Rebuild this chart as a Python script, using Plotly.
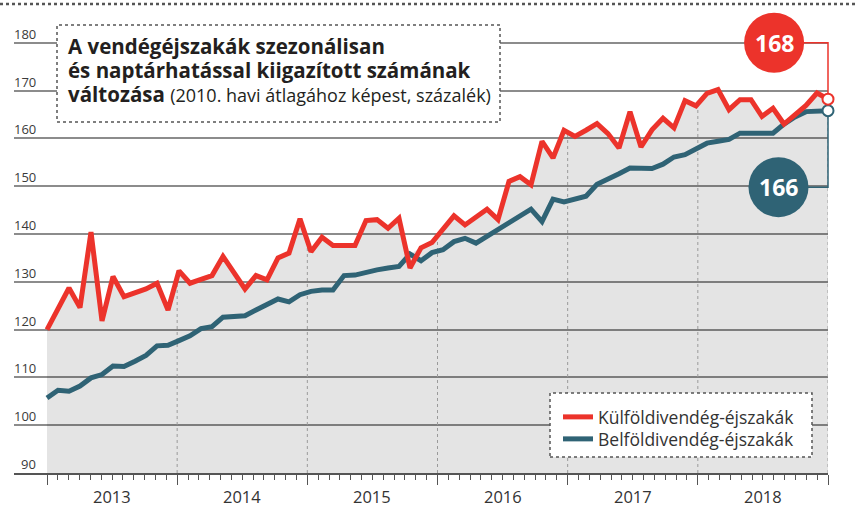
import numpy as np
import plotly.graph_objects as go

# ---------------- data (monthly, Jan 2013 .. Dec 2018) ----------------
years = ["2013", "2014", "2015", "2016", "2017", "2018"]
foreign = [120.0, 124.5, 128.7, 124.6, 140.4, 121.8, 131.1, 126.9, 127.6, 128.5, 129.7, 124.1,
           132.3, 129.7, 130.5, 131.3, 135.3, 131.8, 128.5, 131.3, 130.4, 135.0, 136.0, 143.2,
           136.3, 139.3, 137.6, 137.6, 137.6, 142.8, 143.0, 141.2, 143.3, 132.9, 137.1, 138.2,
           140.9, 143.8, 141.9, 143.5, 145.2, 143.0, 151.0, 152.0, 150.3, 159.4, 155.9, 161.7,
           160.4, 161.7, 163.1, 161.0, 158.0, 165.6, 158.2, 161.8, 164.2, 162.2, 167.9, 166.8,
           169.4, 170.2, 166.0, 168.1, 168.1, 164.6, 166.3, 163.0, 164.9, 166.9, 169.5, 168.2]
domestic = [105.7, 107.3, 107.1, 108.2, 109.9, 110.6, 112.4, 112.3, 113.4, 114.6, 116.6, 116.7,
            117.7, 118.7, 120.2, 120.6, 122.6, 122.8, 122.9, 124.1, 125.3, 126.4, 125.8, 127.3,
            128.0, 128.3, 128.3, 131.3, 131.4, 132.0, 132.5, 132.9, 133.2, 135.8, 134.4, 136.1,
            136.7, 138.4, 139.1, 138.1, 139.5, 140.9, 142.4, 143.8, 145.2, 142.6, 147.3, 146.7,
            147.2, 147.9, 150.4, 151.4, 152.6, 153.8, 153.7, 153.7, 154.6, 156.1, 156.6, 157.9,
            159.0, 159.4, 159.8, 161.1, 161.1, 161.0, 161.1, 163.0, 164.5, 165.6, 165.8, 165.8]
y_ticks = [90, 100, 110, 120, 130, 140, 150, 160, 170, 180]
names = ["Külföldivendég-éjszakák", "Belföldivendég-éjszakák"]
title_lines = ["A vendégéjszakák szezonálisan",
               "és naptárhatással kiigazított számának",
               "változása"]
subtitle = "(2010. havi átlagához képest, százalék)"

RED = "#ec332b"
TEAL = "#2f6375"
FONT = "Open Sans"

months = np.arange(len(foreign))
n = len(foreign)
X0, X1 = -3, n - 1          # x range
Y0, Y1 = 90, 181            # y range
PT, PB = 38, 473            # plot top / bottom pixel
PL, PR = 14, 828

def px(v):   # data x -> paper
    return (v - X0) / (X1 - X0)

def py(v):   # data y -> paper
    return (v - Y0) / (Y1 - Y0)

def ppx(p):  # pixel x -> paper
    return (p - PL) / (PR - PL)

def ppy(p):  # pixel y -> paper
    return (PB - p) / (PB - PT)

envelope = np.maximum(np.array(foreign), np.array(domestic))
bounds = [k * (n - 1) / 6 for k in range(7)]

fig = go.Figure()

# grey area under the lines
fig.add_trace(go.Scatter(x=months, y=envelope, mode="none", fill="tozeroy",
                         fillcolor="rgba(0,0,0,0.105)", showlegend=False, hoverinfo="skip"))

# dotted year separators inside the grey area
vx, vy = [], []
for b in bounds[1:]:
    top = float(np.interp(b, months, envelope))
    vx += [b, b, None]
    vy += [Y0, top, None]
fig.add_trace(go.Scatter(x=vx, y=vy, mode="lines", line=dict(color="#9a9a9a", width=1, dash="dot"),
                         showlegend=False, hoverinfo="skip"))

fig.add_trace(go.Scatter(x=months, y=domestic, mode="lines", name=names[1], legend="legend2",
                         line=dict(color=TEAL, width=5)))
fig.add_trace(go.Scatter(x=months, y=foreign, mode="lines", name=names[0], legend="legend",
                         line=dict(color=RED, width=5)))

# end markers
fig.add_trace(go.Scatter(x=[months[-1]], y=[domestic[-1]], mode="markers", showlegend=False,
                         cliponaxis=False,
                         marker=dict(size=11, color="white", line=dict(color=TEAL, width=2))))
fig.add_trace(go.Scatter(x=[months[-1]], y=[foreign[-1]], mode="markers", showlegend=False,
                         cliponaxis=False,
                         marker=dict(size=11, color="white", line=dict(color=RED, width=2))))

shapes = []
annotations = []

# top dotted rule
shapes.append(dict(type="line", xref="paper", yref="paper", x0=ppx(0), x1=ppx(856), y0=ppy(4), y1=ppy(4),
                   line=dict(color="#555", width=2.5, dash="dot"), layer="above"))

# title box
shapes.append(dict(type="rect", xref="paper", yref="paper", x0=ppx(57), x1=ppx(500), y0=ppy(122), y1=ppy(25),
                   fillcolor="white", line=dict(color="#555", width=1.5, dash="dot"), layer="above"))
for i, (line, yc) in enumerate(zip(title_lines, [46.5, 70, 93.5])):
    txt = f"<b>{line}</b>"
    if i == 2:
        txt += f" <span style='font-size:18px'>{subtitle}</span>"
    annotations.append(dict(xref="paper", yref="paper", x=ppx(66), y=ppy(yc), xanchor="left",
                            yanchor="middle", align="left", showarrow=False, text=txt,
                            font=dict(family=FONT, size=20.5, color="#231f20")))

# legend box
shapes.append(dict(type="rect", xref="paper", yref="paper", x0=ppx(550), x1=ppx(812), y0=ppy(457), y1=ppy(393),
                   fillcolor="white", line=dict(color="#555", width=1.5, dash="dot"), layer="above"))

# value callouts
for val, cx, cyv, col, mark_v, sign in [
        (foreign[-1], 66.1, 180.0, RED, foreign[-1], 1),
        (domestic[-1], 66.5, 149.8, TEAL, domestic[-1], -1)]:
    shapes.append(dict(type="path", xref="paper", yref="paper",
                       path=f"M {px(cx)},{py(cyv)} L {px(n-1)},{py(cyv)} L {px(n-1)},{py(mark_v) + sign*0.012}",
                       line=dict(color=col, width=1.5), layer="above"))
    shapes.append(dict(type="circle", xref="paper", yref="paper", xsizemode="pixel", ysizemode="pixel",
                       xanchor=px(cx), yanchor=py(cyv), x0=-30, x1=30, y0=-30, y1=30,
                       fillcolor=col, line=dict(width=0), layer="above"))
    annotations.append(dict(xref="paper", yref="paper", x=px(cx), y=py(cyv), xanchor="center",
                            yanchor="middle", showarrow=False, text=f"<b>{round(val)}</b>",
                            font=dict(family=FONT, size=23, color="white")))

# y tick labels above gridlines
for t in y_ticks:
    annotations.append(dict(xref="paper", yref="y", x=ppx(38), y=t, xanchor="right", yanchor="bottom",
                            showarrow=False, text=str(t), yshift=-2,
                            font=dict(family=FONT, size=13, color="#3a3a3a")))

# year labels
for k, yr in enumerate(years):
    annotations.append(dict(xref="x", yref="paper", x=(bounds[k] + bounds[k + 1]) / 2, y=ppy(496),
                            xanchor="center", yanchor="middle", showarrow=False, text=yr,
                            font=dict(family=FONT, size=16.5, color="#333")))

leg_common = dict(xanchor="left", yanchor="top", bgcolor="rgba(0,0,0,0)",
                  font=dict(family=FONT, size=17.5, color="#333"), itemwidth=30)

fig.update_layout(
    width=856, height=507,
    margin=dict(l=PL, r=856 - PR, t=PT, b=507 - PB),
    paper_bgcolor="white", plot_bgcolor="white",
    shapes=shapes, annotations=annotations,
    showlegend=True,
    legend=dict(x=ppx(558), y=ppy(399), **leg_common),
    legend2=dict(x=ppx(558), y=ppy(421), **leg_common),
    xaxis=dict(range=[X0, X1], showgrid=False, zeroline=False, showline=True, linecolor="#555",
               linewidth=2, ticks="outside", tickmode="array", tickvals=bounds, ticklen=10,
               tickcolor="#555", tickwidth=1, showticklabels=False,
               minor=dict(tickmode="array", tickvals=[j * (n - 1) / 72 for j in range(73)],
                          ticks="outside", ticklen=5, tickcolor="#555", tickwidth=1, showgrid=False)),
    yaxis=dict(range=[Y0, Y1], tickmode="array", tickvals=y_ticks[1:], showgrid=True,
               gridcolor="#8c8c8c", gridwidth=1.5, zeroline=False, showline=False,
               showticklabels=False, ticks=""),
)

fig.write_html("out.html", config={"displayModeBar": False},
               post_script="document.body.style.margin='0';")
